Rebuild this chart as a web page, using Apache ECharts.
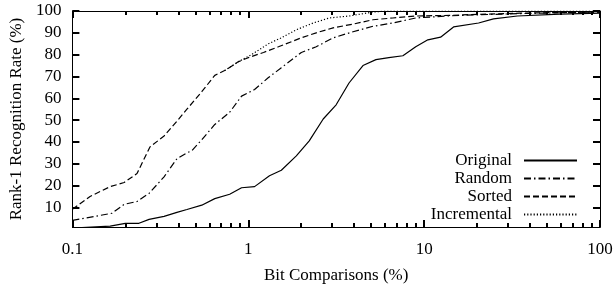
<!DOCTYPE html>
<html>
<head>
<meta charset="utf-8">
<script src="https://cdn.jsdelivr.net/npm/echarts@6/dist/echarts.min.js"></script>
<style>
  html, body { margin: 0; padding: 0; background: #fff; }
  #chart { width: 616px; height: 289px; }
</style>
</head>
<body>
<div id="chart"></div>
<script>
// [bit comparisons %, rank-1 rate %]
const original = [[0.1, 0.5], [0.164, 1.4], [0.2, 2.7], [0.239, 2.7], [0.273, 4.5], [0.332, 5.9], [0.393, 7.7],
  [0.448, 9], [0.544, 11], [0.645, 14], [0.784, 16], [0.916, 19], [1.086, 19.5], [1.32, 24.5], [1.542, 27],
  [1.876, 33.6], [2.222, 40.5], [2.668, 50.5], [3.16, 57], [3.74, 67], [4.49, 75], [5.32, 77.7], [6.3, 78.6],
  [7.57, 79.5], [8.96, 83.6], [10.5, 86.8], [12.4, 88], [14.7, 92.7], [20.4, 94.5], [24.8, 96.4], [33.9, 97.7],
  [59.3, 98.6], [100, 99]]
const random = [[0.1, 4], [0.168, 7.3], [0.197, 11.4], [0.233, 12.7], [0.273, 16.4], [0.332, 24], [0.393, 32.3],
  [0.448, 35], [0.478, 36], [0.544, 41], [0.645, 48], [0.784, 53.6], [0.916, 61], [1.086, 64], [1.303, 69.5],
  [1.542, 74], [2.003, 81], [2.435, 83.6], [3.039, 87.7], [3.945, 90.5], [5.12, 93], [6.64, 94.5], [8.96, 96.8],
  [14.1, 97.8], [20.9, 98.3], [35.2, 98.8], [59.3, 99.2], [100, 99.5]]
const sorted = [[0.1, 9.1], [0.126, 15], [0.164, 19.5], [0.197, 21.4], [0.233, 25.5], [0.276, 37.7], [0.332, 42.7],
  [0.393, 49.5], [0.448, 55], [0.544, 63], [0.645, 70.5], [0.734, 72.7], [0.881, 76.8], [1.0, 78.6], [1.221, 81],
  [1.484, 83.6], [2.003, 87.7], [2.435, 90], [3.039, 92.3], [3.945, 94], [5.12, 96], [6.64, 96.8], [8.96, 97.7],
  [14.1, 98], [20.9, 98.5], [35.2, 99], [59.3, 99.3], [100, 99.5]]
const incremental = [[0.734, 72.7], [0.881, 76.8], [1.044, 80], [1.303, 85], [1.542, 87.7], [1.876, 91.4],
  [2.342, 94.5], [2.884, 96.8], [3.74, 97.7], [5.12, 99.5], [6, 100], [100, 100]]

const seriesNames = ['Original', 'Random', 'Sorted', 'Incremental']
const xMajor = [0.1, 1, 10, 100]
const xMinor = [0.2, 0.3, 0.4, 0.5, 0.6, 0.7, 0.8, 0.9, 2, 3, 4, 5, 6, 7, 8, 9, 20, 30, 40, 50, 60, 70, 80, 90]
const yTicks = [10, 20, 30, 40, 50, 60, 70, 80, 90, 100]

const font = 'Liberation Serif'
const chart = echarts.init(document.getElementById('chart'))

// log x axis; several copies so major/minor ticks can have different lengths
function xAxisOf(position, ticks, len, showLabel) {
  const axis = {
    type: 'log',
    min: 0.1,
    max: 100,
    position: position,
    axisLine: { show: true, lineStyle: { color: 'black' } },
    axisTick: { show: true, inside: true, length: len, customValues: ticks, lineStyle: { color: 'black', width: 2 } },
    axisLabel: showLabel
      ? { show: true, customValues: xMajor, color: 'black', fontFamily: font, fontSize: 17, margin: 14 }
      : { show: false },
    splitLine: { show: false }
  }
  if (showLabel) {
    axis.name = 'Bit Comparisons (%)'
    axis.nameLocation = 'middle'
    axis.nameGap = 40
    axis.nameTextStyle = { color: 'black', fontFamily: font, fontSize: 17 }
  }
  return axis
}

function yAxisOf(position, showLabel) {
  const axis = {
    type: 'value',
    min: 1,
    max: 100,
    position: position,
    axisLine: { show: true, lineStyle: { color: 'black' } },
    axisTick: { show: true, inside: true, length: 7, customValues: yTicks, lineStyle: { color: 'black', width: 2 } },
    axisLabel: showLabel
      ? { show: true, customValues: yTicks, color: 'black', fontFamily: font, fontSize: 17, margin: 11 }
      : { show: false },
    splitLine: { show: false }
  }
  if (showLabel) {
    axis.name = 'Rank-1 Recognition Rate (%)'
    axis.nameLocation = 'middle'
    axis.nameGap = 44
    axis.nameTextStyle = { color: 'black', fontFamily: font, fontSize: 17 }
  }
  return axis
}

const dashes = ['solid', [7, 3, 1.5, 3], [6, 3], [1.2, 2]]
const lines = [original, random, sorted, incremental]

const option = {
  animation: false,
  backgroundColor: '#fff',
  grid: { left: 70, right: 16, top: 11, bottom: 59 },
  legend: {
    data: seriesNames,
    orient: 'vertical',
    right: 38,
    top: 152,
    padding: 0,
    align: 'right',
    itemWidth: 53,
    itemHeight: 10,
    itemGap: 1,
    selectedMode: false,
    itemStyle: { opacity: 0 },
    textStyle: { color: 'black', fontFamily: font, fontSize: 17, padding: [0, 7, 0, 0] }
  },
  xAxis: [
    xAxisOf('bottom', xMajor, 7, true),
    xAxisOf('bottom', xMinor, 4, false),
    xAxisOf('top', xMajor, 7, false),
    xAxisOf('top', xMinor, 4, false)
  ],
  yAxis: [yAxisOf('left', true), yAxisOf('right', false)],
  series: lines.map((d, i) => ({
    name: seriesNames[i],
    type: 'line',
    data: d,
    xAxisIndex: 0,
    yAxisIndex: 0,
    symbol: 'none',
    clip: true,
    lineStyle: { color: 'black', width: 1.2, type: dashes[i] },
    itemStyle: { color: 'black' }
  }))
}

chart.setOption(option)
</script>
</body>
</html>
